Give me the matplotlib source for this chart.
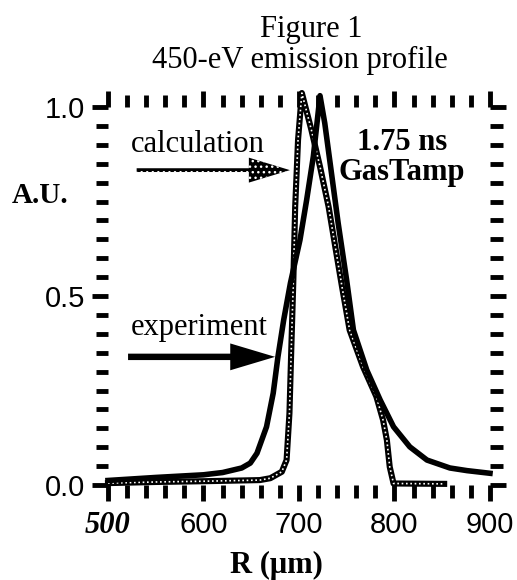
import matplotlib
matplotlib.use('Agg')
import matplotlib.pyplot as plt
from matplotlib.patches import FancyArrow
from matplotlib.ticker import MultipleLocator

serif = 'Liberation Serif'   # Times look-alike
sans = 'Liberation Sans'     # Helvetica look-alike

# experiment (solid black)
exp_r = [500, 550, 600, 620, 640, 649, 656, 666, 673, 678, 684, 691, 701, 708, 715, 722,
         727, 734, 741, 750, 757, 771, 785, 799, 816, 834, 858, 876, 900]
exp_y = [0.012, 0.02, 0.027, 0.033, 0.045, 0.058, 0.084, 0.154, 0.243, 0.34, 0.437, 0.534,
         0.648, 0.754, 0.869, 1.03, 0.957, 0.825, 0.693, 0.54, 0.41, 0.304, 0.225, 0.154,
         0.101, 0.066, 0.045, 0.038, 0.031]

# calculation (dotted grey)
calc_r = [500, 550, 600, 640, 659, 670, 682, 687, 690, 692, 694, 696, 699, 703, 713, 722,
          731, 738, 745, 753, 767, 781, 788, 792, 795, 799, 852]
calc_y = [0.005, 0.008, 0.01, 0.012, 0.013, 0.018, 0.035, 0.066, 0.19, 0.366, 0.534, 0.736,
          0.913, 1.037, 0.939, 0.842, 0.736, 0.63, 0.525, 0.41, 0.313, 0.234, 0.172, 0.119,
          0.048, 0.004, 0.003]

x_ticks = [500, 600, 700, 800, 900]
x_labels = ['500', '600', '700', '800', '900']
y_ticks = [0.0, 0.5, 1.0]
y_labels = ['0.0', '0.5', '1.0']

fig = plt.figure(figsize=(5.17, 5.8), dpi=100)
ax = fig.add_axes([108/517, 1-485/580, 382/517, 378/580])

# calculation: black chain with white dots
ax.plot(calc_r, calc_y, color='black', lw=4.4, clip_on=False, zorder=3)
ax.plot(calc_r, calc_y, color='white', lw=1.2, ls=(0, (1, 1.6)), clip_on=False, zorder=4)
# experiment
ax.plot(exp_r, exp_y, color='black', lw=4.0, clip_on=False, zorder=5,
        solid_joinstyle='round')

ax.set_xlim(500, 900)
ax.set_ylim(0, 1.0)

# dashed-looking frame from thick outward ticks
for s in ax.spines.values():
    s.set_visible(False)
ax.xaxis.set_minor_locator(MultipleLocator(20))
ax.yaxis.set_minor_locator(MultipleLocator(0.05))
ax.set_xticks(x_ticks)
ax.set_xticklabels(x_labels)
ax.set_yticks(y_ticks)
ax.set_yticklabels(y_labels)
ax.tick_params(which='both', direction='out', top=True, right=True, width=3.5, color='black')
ax.tick_params(which='major', length=11.5)
ax.tick_params(which='minor', length=9)
ax.tick_params(axis='x', which='major', pad=7)
ax.tick_params(axis='y', which='major', pad=5)
for lab in ax.get_xticklabels() + ax.get_yticklabels():
    lab.set_fontfamily(sans)
    lab.set_fontsize(21)
first = ax.get_xticklabels()[0]
first.set_fontfamily(serif)
first.set_fontstyle('italic')
first.set_fontweight('bold')
first.set_fontsize(22)

# annotations
ax.text(594, 0.881, 'calculation', family=serif, fontsize=22, ha='center', va='baseline')
ax.add_patch(FancyArrow(530, 0.833, 160.5, 0, width=0.01, head_width=0.066,
                        head_length=43, length_includes_head=True,
                        facecolor='black', edgecolor='white', lw=0, hatch='...',
                        zorder=2))
ax.text(595, 0.397, 'experiment', family=serif, fontsize=22, ha='center', va='baseline')
ax.add_patch(FancyArrow(521, 0.339, 154, 0, width=0.017, head_width=0.071,
                        head_length=47, length_includes_head=True,
                        facecolor='black', edgecolor='black', lw=0, zorder=2))
ax.text(808, 0.886, '1.75 ns', family=serif, fontsize=22, weight='bold',
        ha='center', va='baseline')
ax.text(808, 0.807, 'GasTamp', family=serif, fontsize=22, weight='bold',
        ha='center', va='baseline')

# titles and axis labels
fig.text(311/517, 1-37/580, 'Figure 1', family=serif, fontsize=22, ha='center', va='baseline')
fig.text(300/517, 1-68/580, '450-eV emission profile', family=serif, fontsize=22,
         ha='center', va='baseline')
fig.text(40/517, 1-195/580, 'A.U.', family=serif, fontsize=21, weight='bold',
         ha='center', va='center')
fig.text(276/517, 1-565/580, 'R (\u03bcm)', family=serif, fontsize=22, weight='bold',
         ha='center', va='center')

plt.savefig('out.png', dpi=100)
